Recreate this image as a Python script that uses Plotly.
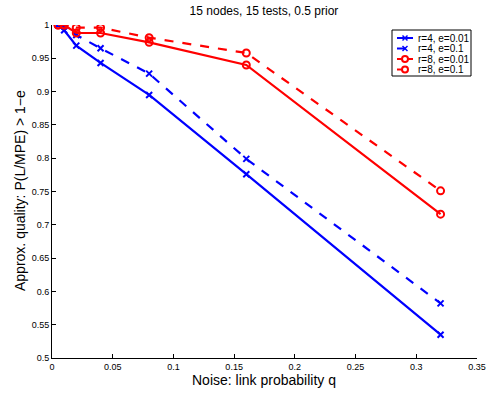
import plotly.graph_objects as go

q = [0.005, 0.01, 0.02, 0.04, 0.08, 0.16, 0.32]
r4_e001 = [1.0, 0.992, 0.969, 0.943, 0.895, 0.776, 0.535]
r4_e01 = [1.0, 0.998, 0.985, 0.965, 0.927, 0.799, 0.582]
r8_e001 = [1.0, 1.0, 0.988, 0.988, 0.974, 0.940, 0.716]
r8_e01 = [1.0, 1.0, 0.996, 0.996, 0.981, 0.958, 0.751]

x_ticks = [0, 0.05, 0.1, 0.15, 0.2, 0.25, 0.3, 0.35]
x_labels = ["0", "0.05", "0.1", "0.15", "0.2", "0.25", "0.3", "0.35"]
y_ticks = [0.5, 0.55, 0.6, 0.65, 0.7, 0.75, 0.8, 0.85, 0.9, 0.95, 1.0]
y_labels = ["0.5", "0.55", "0.6", "0.65", "0.7", "0.75", "0.8", "0.85", "0.9", "0.95", "1"]

series = [
    ("r=4, e=0.01", r4_e001, "#0000ff", "solid", "x-thin-open"),
    ("r=4, e=0.1", r4_e01, "#0000ff", "dash", "x-thin-open"),
    ("r=8, e=0.01", r8_e001, "#ff0000", "solid", "circle-open"),
    ("r=8, e=0.1", r8_e01, "#ff0000", "dash", "circle-open"),
]

W, H = 490, 395
L, R, T, B = 52, 13, 25, 37
pw, ph = W - L - R, H - T - B


def px(xp):
    return (xp - L) / pw


def py(yp):
    return (H - B - yp) / ph


fig = go.Figure()
for name, ys, col, dash, sym in series:
    fig.add_trace(go.Scatter(
        x=q, y=ys, name=name, mode="lines+markers", showlegend=False,
        line=dict(color=col, width=2.2, dash=dash),
        marker=dict(symbol=sym, size=7 if sym.startswith("circle") else 6,
                    color=col, line=dict(color=col, width=2)),
    ))

font = "Liberation Sans, Arial, Helvetica, sans-serif"

# custom compact legend (MATLAB style)
shapes = [dict(type="rect", xref="paper", yref="paper",
               x0=px(392), x1=px(471), y0=py(30), y1=py(76),
               line=dict(color="black", width=1), fillcolor="white", layer="above")]
annotations = []
rows = [38, 48.5, 59, 69.5]
for (name, ys, col, dash, sym), ry in zip(series, rows):
    shapes.append(dict(type="line", xref="paper", yref="paper",
                       x0=px(397), x1=px(413), y0=py(ry), y1=py(ry),
                       line=dict(color=col, width=2, dash="dash" if dash == "dash" else "solid"),
                       layer="above"))
    cx = 405
    if sym.startswith("circle"):
        shapes.append(dict(type="circle", xref="paper", yref="paper",
                           x0=px(cx - 3), x1=px(cx + 3), y0=py(ry + 3), y1=py(ry - 3),
                           line=dict(color=col, width=2), fillcolor="white", layer="above"))
    else:
        for dy in (-2.5, 2.5):
            shapes.append(dict(type="line", xref="paper", yref="paper",
                               x0=px(cx - 2.5), x1=px(cx + 2.5), y0=py(ry - dy), y1=py(ry + dy),
                               line=dict(color=col, width=1.5), layer="above"))
    annotations.append(dict(xref="paper", yref="paper", x=px(416), y=py(ry),
                            xanchor="left", yanchor="middle", text=name, showarrow=False,
                            font=dict(size=10, family=font, color="black")))

# axis titles placed like the MATLAB original
annotations.append(dict(xref="paper", yref="paper", x=px(264), y=py(380),
                        xanchor="center", yanchor="middle", showarrow=False,
                        text="Noise: link probability q",
                        font=dict(size=14, family=font, color="black")))
annotations.append(dict(xref="paper", yref="paper", x=px(20), y=py(191),
                        xanchor="center", yanchor="middle", showarrow=False, textangle=-90,
                        text="Approx. quality: P(L/MPE) > 1\u2212e",
                        font=dict(size=14, family=font, color="black")))

fig.update_layout(
    width=W, height=H,
    margin=dict(l=L, r=R, t=T, b=B, autoexpand=False),
    plot_bgcolor="white", paper_bgcolor="white",
    font=dict(family=font, size=10, color="black"),
    title=dict(text="15 nodes, 15 tests, 0.5 prior", x=px(264), xanchor="center",
               xref="paper", y=1 - 11 / H, yanchor="middle", font=dict(size=12)),
    showlegend=False,
    shapes=shapes, annotations=annotations,
    xaxis=dict(range=[0, 0.35], tickvals=x_ticks, ticktext=x_labels, automargin=False,
               showline=True, linecolor="black", linewidth=1, tickfont=dict(size=9),
               ticks="inside", ticklen=4, tickcolor="black",
               showgrid=False, zeroline=False, mirror=False),
    yaxis=dict(range=[0.5, 1.0], tickvals=y_ticks, ticktext=y_labels, automargin=False,
               showline=True, linecolor="black", linewidth=1, tickfont=dict(size=9),
               ticks="inside", ticklen=4, tickcolor="black",
               showgrid=False, zeroline=False, mirror=False),
)
fig.write_html("out.html", config={"displayModeBar": False},
               post_script="document.body.style.margin='0';document.body.style.overflow='hidden';")
